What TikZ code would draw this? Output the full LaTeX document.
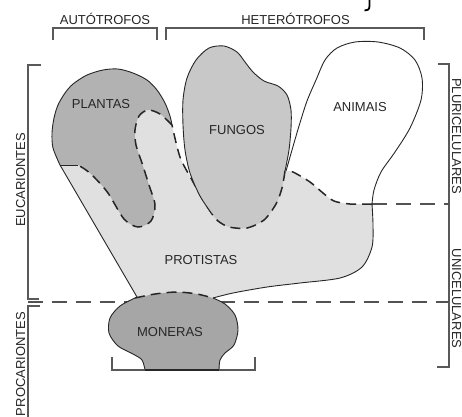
\documentclass[tikz,border=0pt]{standalone}
\usepackage{fontspec}
\setmainfont{Liberation Sans}
\definecolor{plantcol}{HTML}{B2B2B2}
\definecolor{fungcol}{HTML}{C8C8C8}
\definecolor{protcol}{HTML}{E0E0E0}
\definecolor{moncol}{HTML}{A6A6A6}
\tikzset{
  solidedge/.style={draw=black!85, line width=0.9pt},
  dashedge/.style={draw=black!85, line width=1.5pt, dash pattern=on 10pt off 6pt},
  divline/.style={draw=black!68, line width=1.8pt, dash pattern=on 15pt off 9pt},
  bracketline/.style={draw=black!65, line width=1.3pt},
  lbl/.style={font=\fontsize{13}{13}\selectfont, text=black!85, inner sep=0pt, anchor=base}
}
\begin{document}
\begin{tikzpicture}[x=1pt,y=-1pt]
\useasboundingbox (0,0) rectangle (462,416);

% brackets
\draw[bracketline] (53,40) -- (53,28) -- (157,28) -- (157,40);
\draw[bracketline] (166,40) -- (166,28) -- (424,28) -- (424,40);
\draw[bracketline] (41,65) -- (28,65) -- (28,299) -- (39,299);
\draw[bracketline] (40,306) -- (28,306) -- (28,418);
\draw[bracketline] (438,64) -- (449,64) -- (449,367) -- (437,367);

% dividing dashed lines
\draw[divline] (28,302) -- (449,302);
\draw[divline] (372,204) -- (449,204);

% PROTISTAS
\fill[protcol] (60,165) -- (137,297)
  -- plot[smooth] coordinates {(137,297) (157,294) (177,293) (197,295) (213,298)}
  -- plot[smooth] coordinates {(213,298) (233,293) (267,287) (300,283) (340,278) (362,267) (372,247) (373,225) (372,204)}
  -- plot[smooth] coordinates {(372,204) (350,204) (334,201) (323,193) (310,182) (293,172) (286,171)}
  -- (212,214)
  -- plot[smooth] coordinates {(212,214) (203,200) (192,180) (180,157) (172,125)}
  -- plot[smooth] coordinates {(172,125) (160,114) (148,110) (139,116)}
  -- cycle;
\draw[solidedge] (60,165) -- (137,297);
\draw[solidedge] plot[smooth] coordinates {(213,298) (233,293) (267,287) (300,283) (340,278) (362,267) (372,247) (373,225) (372,204)};
\draw[dashedge] plot[smooth] coordinates {(372,204) (350,204) (334,201) (323,193) (310,182) (293,172) (286,171)};
\draw[dashedge] plot[smooth] coordinates {(212,214) (203,200) (192,180) (180,157) (172,125)};

% PLANTAS
\fill[plantcol] plot[smooth] coordinates {(60,165) (53,148) (52,133) (54,118) (58,105) (65,93) (73,84) (87,75) (103,70) (118,69) (133,73) (147,80) (157,90) (165,103) (170,116) (172,125)}
  -- plot[smooth] coordinates {(172,125) (160,114) (148,110) (139,116) (135,130) (136,145) (142,163) (149,185) (155,205) (151,221) (138,227) (124,219) (108,193) (94,177) (86,170) (78,165)}
  -- cycle;
\draw[solidedge] plot[smooth] coordinates {(60,165) (53,148) (52,133) (54,118) (58,105) (65,93) (73,84) (87,75) (103,70) (118,69) (133,73) (147,80) (157,90) (165,103) (170,116) (172,125)};
\draw[dashedge] plot[smooth] coordinates {(172,125) (160,114) (148,110) (139,116) (135,130) (136,145) (142,163) (149,185) (155,205) (151,221) (138,227) (124,219) (108,193) (94,177) (86,170) (78,165)};
\draw[solidedge] (78,165) -- (60,165);

% FUNGOS
\fill[fungcol] plot[smooth] coordinates {(212,214) (200,196) (190,173) (185,150) (183,125) (183,100) (187,78) (196,60) (209,48) (224,46) (237,52) (245,62) (253,72) (264,81) (278,86) (287,95) (291,110) (291,128) (289,150) (285,171)}
  -- plot[smooth] coordinates {(285,171) (282,188) (276,204) (264,220) (247,228) (229,227) (218,221) (212,214)}
  -- cycle;
\draw[solidedge] plot[smooth] coordinates {(212,214) (200,196) (190,173) (185,150) (183,125) (183,100) (187,78) (196,60) (209,48) (224,46) (237,52) (245,62) (253,72) (264,81) (278,86) (287,95) (291,110) (291,128) (289,150) (285,171)};
\draw[dashedge] plot[smooth] coordinates {(285,171) (282,188) (276,204) (264,220) (247,228) (229,227) (218,221) (212,214)};

% ANIMAIS
\draw[solidedge] plot[smooth] coordinates {(372,204) (374,190) (381,172) (395,152) (410,128) (421,100) (422,78) (415,60) (400,48) (378,42) (355,42) (337,48) (325,60) (316,80) (307,101) (299,126) (292,150) (286,171)};

% MONERAS
\fill[moncol] plot[smooth] coordinates {(135,298) (155,294) (177,292) (197,294) (213,298)}
  -- plot[smooth] coordinates {(213,298) (225,304) (235,315) (238,330) (234,345) (225,353) (220,360) (219,370)}
  -- (145,370)
  -- plot[smooth] coordinates {(145,370) (142,360) (133,354) (118,346) (109,333) (110,318) (120,306) (135,298)}
  -- cycle;
\draw[dashedge] plot[smooth] coordinates {(135,298) (155,294) (177,292) (197,294) (213,298)};
\draw[solidedge] plot[smooth] coordinates {(213,298) (225,304) (235,315) (238,330) (234,345) (225,353) (220,360) (219,370)};
\draw[solidedge] plot[smooth] coordinates {(145,370) (142,360) (133,354) (118,346) (109,333) (110,318) (120,306) (135,298)};
\draw[bracketline] (112,357) -- (112,370) -- (255,370) -- (255,357);
\draw[draw=black!85, line width=1.8pt] (145,370) -- (219,370);

% glyph fragment at top
\draw[line width=1.8pt] (369.5,-1) -- (369.5,6) .. controls (369.5,10) and (367,10.5) .. (364.5,10.5);

% labels
\node[lbl] (autotrofos) at (105,24) {AUTÓTROFOS};
\node[lbl] (heterotrofos) at (295.5,24) {HETERÓTROFOS};
\node[lbl] (plantas) at (101,108.5) {PLANTAS};
\node[lbl] (fungos) at (237,134.5) {FUNGOS};
\node[lbl] (animais) at (360,111.5) {ANIMAIS};
\node[lbl] (protistas) at (201,264.5) {PROTISTAS};
\node[lbl] (moneras) at (170,336.5) {MONERAS};
\node[lbl, rotate=90] (eucariontes) at (25,180) {EUCARIONTES};
\node[lbl, rotate=90] (procariontes) at (25,364) {PROCARIONTES};
\node[lbl, rotate=-90] (pluri) at (452,136) {PLURICELULARES};
\node[lbl, rotate=-90] (uni) at (452,298.5) {UNICELULARES};
\end{tikzpicture}
\end{document}
